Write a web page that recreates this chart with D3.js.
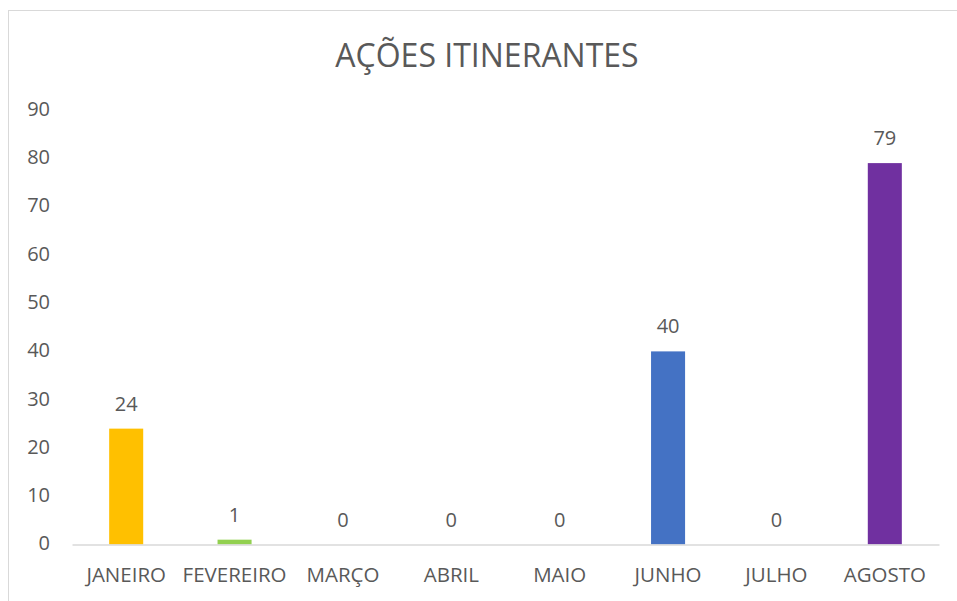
<!DOCTYPE html>
<html>
<head>
<meta charset="utf-8">
<script src="https://cdn.jsdelivr.net/npm/d3@7"></script>
<style>
  body { margin: 0; background: #fff; }
  text { font-family: "Open Sans", Lato, sans-serif; fill: #595959; }
</style>
</head>
<body>
<svg id="chart" width="957" height="601"></svg>
<script>
// chart data
var months = ["JANEIRO", "FEVEREIRO", "MARÇO", "ABRIL", "MAIO", "JUNHO", "JULHO", "AGOSTO"];
var values = [24, 1, 0, 0, 0, 40, 0, 79];
var colors = ["#FFC000", "#92D050", "#ED7D31", "#A5A5A5", "#5B9BD5", "#4472C4", "#70AD47", "#7030A0"];
var yTicks = [0, 10, 20, 30, 40, 50, 60, 70, 80, 90];
var title = "AÇÕES ITINERANTES";

var svg = d3.select("#chart");

// chart frame (light border, cut off on right and bottom)
svg.append("rect")
  .attr("x", 8.5).attr("y", 10.5)
  .attr("width", 1000).attr("height", 700)
  .attr("fill", "none")
  .attr("stroke", "#d9d9d9");

var x = d3.scaleBand()
  .domain(months)
  .range([72, 939])
  .paddingInner(0.686)
  .paddingOuter(0.343);

var y = d3.scaleLinear()
  .domain([0, 90])
  .range([544.5, 110]);

svg.append("text")
  .attr("x", 487).attr("y", 67)
  .attr("text-anchor", "middle")
  .style("font-size", "32px")
  .text(title);

// y axis labels only
var yAxis = svg.append("g")
  .attr("transform", "translate(50,-1)")
  .call(d3.axisLeft(y).tickValues(yTicks).tickSize(0).tickPadding(0));
yAxis.select(".domain").remove();
yAxis.selectAll("text").style("font-size", "20px").attr("fill", "#595959");

// bars
svg.selectAll(".bar")
  .data(values)
  .enter().append("rect")
  .attr("class", "bar")
  .attr("x", function(d, i) { return x(months[i]); })
  .attr("width", x.bandwidth())
  .attr("y", function(d) { return y(d); })
  .attr("height", function(d) { return y(0) - y(d); })
  .attr("fill", function(d, i) { return colors[i]; });

// x axis
var xAxis = svg.append("g")
  .attr("transform", "translate(0," + y(0) + ")")
  .call(d3.axisBottom(x).tickSize(0).tickPadding(23));
xAxis.select(".domain").attr("stroke", "#d9d9d9").attr("stroke-width", 1.5);
xAxis.selectAll("text").style("font-size", "20.5px").attr("fill", "#595959");

// data labels
svg.selectAll(".lbl")
  .data(values)
  .enter().append("text")
  .attr("class", "lbl")
  .attr("x", function(d, i) { return x(months[i]) + x.bandwidth() / 2; })
  .attr("y", function(d) { return y(d) - 18; })
  .attr("text-anchor", "middle")
  .style("font-size", "20px")
  .text(function(d) { return d; });
</script>
</body>
</html>
